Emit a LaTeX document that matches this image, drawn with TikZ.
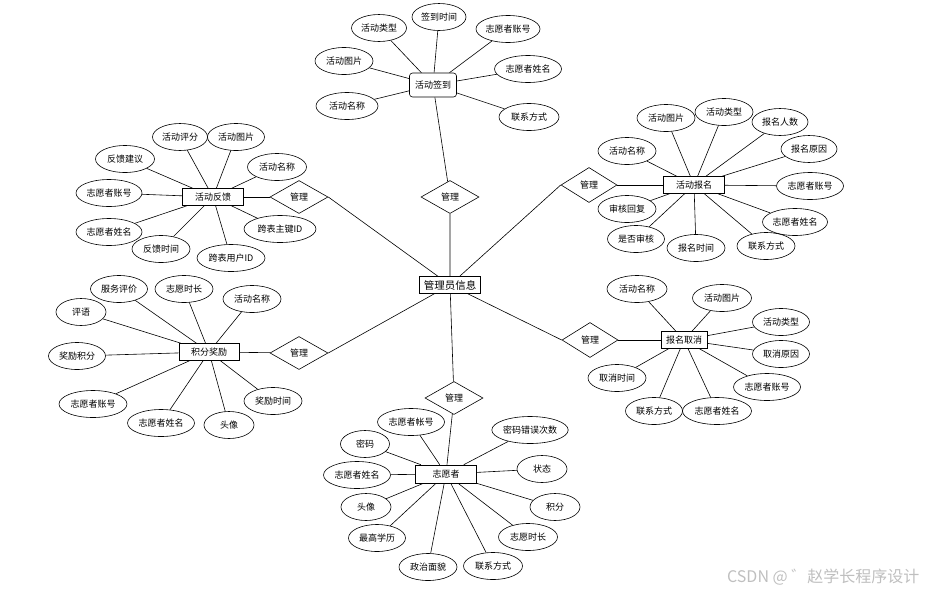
\documentclass[tikz,border=0pt]{standalone}
\usepackage{fontspec}
\setmainfont{Noto Sans CJK SC}
\usepackage{tikz}
\usetikzlibrary{shapes.geometric}

\begin{document}
\begin{tikzpicture}[x=1pt,y=-1pt,line width=0.6pt,
  attr/.style={draw,ellipse,inner sep=0pt,minimum height=27pt,font=\fontsize{9}{10}\selectfont},
  ent/.style={draw,rectangle,inner sep=0pt,minimum height=17pt,font=\fontsize{9}{10}\selectfont},
  rel/.style={draw,diamond,inner sep=0pt,minimum width=58pt,minimum height=33pt,font=\fontsize{9}{10}\selectfont}]
  \useasboundingbox (0,0) rectangle (926,592); % 画像全体の枠（ピクセル単位、y は下向き）
  \node[ent,minimum width=61pt,font=\fontsize{10.5}{12}\selectfont] (admin) at (450,285) {管理员信息}; % 中心の実体
  \node[ent,rounded corners=3pt,minimum width=47pt,minimum height=24pt] (qd) at (433,85) {活动签到};
  \node[ent,minimum width=61pt] (fk) at (213,197) {活动反馈};
  \node[ent,minimum width=60pt] (jf) at (209,352) {积分奖励};
  \node[ent,minimum width=61pt] (bm) at (694,185) {活动报名};
  \node[ent,minimum width=46pt] (qx) at (684,340) {报名取消};
  \node[ent,minimum width=61pt,minimum height=18pt] (zy) at (446,474) {志愿者};
  \node[rel] (r1) at (450,197) {管理}; % 関係（ひし形）
  \node[rel] (r2) at (299,197) {管理};
  \node[rel] (r3) at (299,353) {管理};
  \node[rel,minimum width=56pt,minimum height=35pt] (r4) at (589,185) {管理};
  \node[rel,minimum width=56pt,minimum height=35pt] (r5) at (590,340) {管理};
  \node[rel] (r6) at (454,398) {管理};
  \draw (admin) -- (r1) -- (qd); % 中心から各実体へ
  \draw (admin) -- (r2.east); \draw (r2) -- (fk);
  \draw (admin) -- (r3.east); \draw (r3) -- (jf);
  \draw (admin) -- (r4.west); \draw (r4) -- (bm);
  \draw (admin) -- (r5.west); \draw (r5) -- (qx);
  \draw (admin) -- (r6) -- (zy);
  % 属性（楕円）：x/y/幅/名前
  \foreach \x/\y/\w/\t [count=\i] in {379/28/55/活动类型,439/17/54/签到时间,508/29/64/志愿者账号,344/61/58/活动图片,528/69/67/志愿者姓名,347/106/62/活动名称,529/117/60/联系方式}
    {\node[attr,minimum width=\w pt] (qd-\i) at (\x,\y) {\t}; \draw (qd) -- (qd-\i);}
  \foreach \x/\y/\w/\t [count=\i] in {180/137/55/活动评分,236/137/57/活动图片,125/159/59/反馈建议,277/167/59/活动名称,109/193/66/志愿者账号,109/232/66/志愿者姓名,280/229/72/跨表主键ID,161/249/58/反馈时间,231/258/68/跨表用户ID}
    {\node[attr,minimum width=\w pt] (fk-\i) at (\x,\y) {\t}; \draw (fk) -- (fk-\i);}
  \foreach \x/\y/\w/\t [count=\i] in {119/289/57/服务评价,184/289/58/志愿时长,252/299/58/活动名称,81/312/50/评语,77/356/57/奖励积分,93/404/68/志愿者账号,273/401/58/奖励时间,161/423/67/志愿者姓名,229/425/50/头像}
    {\node[attr,minimum width=\w pt] (jf-\i) at (\x,\y) {\t}; \draw (jf) -- (jf-\i);}
  \foreach \x/\y/\w/\t [count=\i] in {666/118/58/活动图片,724/112/58/活动类型,780/122/56/报名人数,627/151/58/活动名称,809/149/56/报名原因,810/186/67/志愿者账号,627/209/58/审核回复,795/222/65/志愿者姓名,636/239/57/是否审核,696/248/58/报名时间,766/246/58/联系方式}
    {\node[attr,minimum width=\w pt] (bm-\i) at (\x,\y) {\t}; \draw (bm) -- (bm-\i);}
  \foreach \x/\y/\w/\t [count=\i] in {637/289/60/活动名称,722/298/59/活动图片,781/322/57/活动类型,781/354/57/取消原因,617/378/58/取消时间,767/387/67/志愿者账号,654/411/57/联系方式,717/411/69/志愿者姓名}
    {\node[attr,minimum width=\w pt] (qx-\i) at (\x,\y) {\t}; \draw (qx) -- (qx-\i);}
  \foreach \x/\y/\w/\t [count=\i] in {411/422/67/志愿者帐号,530/430/76/密码错误次数,365/444/49/密码,357/475/67/志愿者姓名,542/469/50/状态,366/507/50/头像,555/507/50/积分,377/538/57/最高学历,528/537/59/志愿时长,428/567/58/政治面貌,493/566/59/联系方式}
    {\node[attr,minimum width=\w pt] (zy-\i) at (\x,\y) {\t}; \draw (zy) -- (zy-\i);}
  \node[anchor=east,text=black!25,font=\fontsize{16}{18}\selectfont] (wm) at (923,577) {CSDN @ ゛赵学长程序设计}; % 透かし文字
\end{tikzpicture}
\end{document}
